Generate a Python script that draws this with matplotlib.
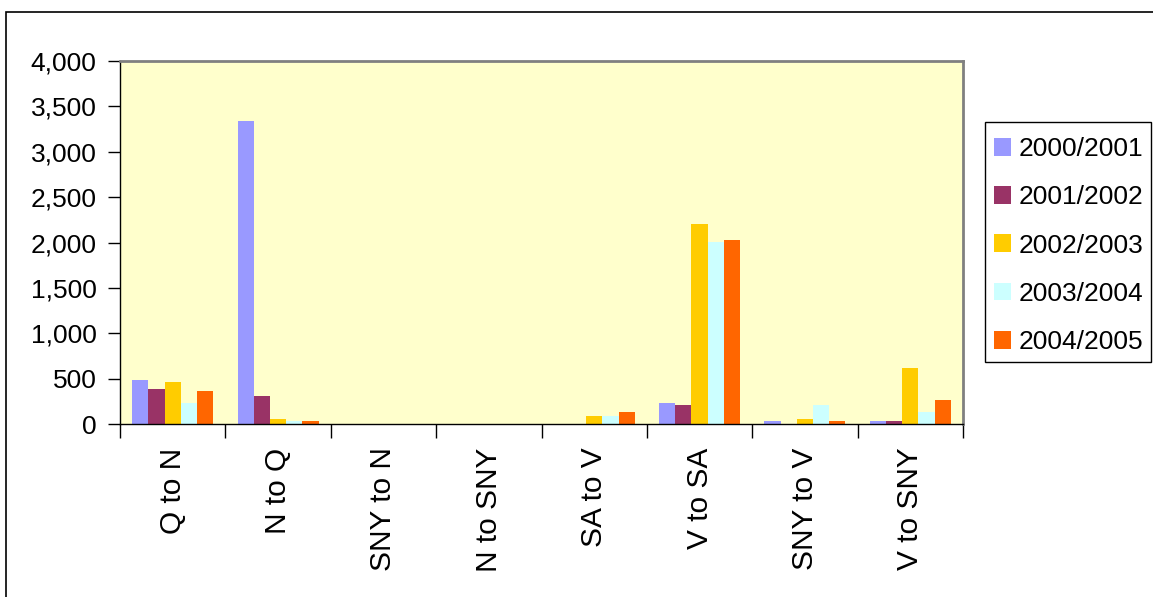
import matplotlib
matplotlib.use("Agg")
import matplotlib.pyplot as plt
from matplotlib.patches import Rectangle
from matplotlib.ticker import FuncFormatter, FixedLocator
import numpy as np

plt.rcParams['font.family'] = ['Liberation Sans', 'DejaVu Sans']

categories = ["Q to N", "N to Q", "SNY to N", "N to SNY", "SA to V", "V to SA", "SNY to V", "V to SNY"]
seasons = ["2000/2001", "2001/2002", "2002/2003", "2003/2004", "2004/2005"]
values_2000_2001 = [490, 3340, 0, 0, 0, 235, 36, 36]
values_2001_2002 = [390, 312, 0, 0, 0, 213, 0, 36]
values_2002_2003 = [466, 58, 0, 0, 92, 2206, 58, 620]
values_2003_2004 = [235, 36, 0, 0, 92, 2010, 213, 136]
values_2004_2005 = [367, 36, 0, 0, 136, 2030, 36, 268]
series = [values_2000_2001, values_2001_2002, values_2002_2003, values_2003_2004, values_2004_2005]
colors = ["#9999FF", "#993366", "#FFCC00", "#CCFFFF", "#FF6600"]

W, H = 1153, 597
fig = plt.figure(figsize=(W / 100, H / 100), dpi=100)

# outer chart border
fig.patches.append(Rectangle((6 / W, -0.1), 1.2, 1 - 12 / H + 0.1, transform=fig.transFigure,
                             fill=False, edgecolor="black", linewidth=1.2, clip_on=False))

ax = fig.add_axes([120 / W, 1 - 424 / H, (963 - 120) / W, (424 - 61) / H])
ax.set_facecolor("#FFFFCC")

n_series = len(series)
bar_w = 1 / 6.5
x = np.arange(len(categories)) + 0.5
for j, (vals, col, lab) in enumerate(zip(series, colors, seasons)):
    ax.bar(x + (j - (n_series - 1) / 2) * bar_w, vals, width=bar_w, color=col,
           label=lab, linewidth=0, zorder=2)

ax.set_xlim(0, len(categories))
ax.set_ylim(0, 4000)
ax.set_yticks(np.arange(0, 4001, 500))
ax.yaxis.set_major_formatter(FuncFormatter(lambda v, p: f"{int(v):,}"))
ax.tick_params(axis="y", direction="out", length=9, width=1, pad=8, labelsize=19, color="black")

ax.xaxis.set_major_locator(FixedLocator(np.arange(0, len(categories) + 1)))
ax.xaxis.set_minor_locator(FixedLocator(x))
ax.set_xticklabels([], minor=False)
ax.set_xticklabels(categories, minor=True, rotation=90, va="top", ha="center")
ax.tick_params(axis="x", which="major", direction="out", length=10, width=1, color="black")
ax.tick_params(axis="x", which="minor", length=0, pad=17, labelsize=21.5)

for side in ("top", "right"):
    ax.spines[side].set_color("#808080")
    ax.spines[side].set_linewidth(2)
for side in ("left", "bottom"):
    ax.spines[side].set_color("black")
    ax.spines[side].set_linewidth(1)

# legend box, drawn separately so the entries can sit freely inside it
fig.patches.append(Rectangle((985 / W, 1 - 362 / H), (1151 - 985) / W, (362 - 122) / H,
                             transform=fig.transFigure, fill=True, facecolor="white",
                             edgecolor="black", linewidth=1, zorder=3))
leg = fig.legend(loc="upper left", bbox_to_anchor=(994 / W, 1 - 137 / H), fontsize=19,
                 frameon=False, handlelength=0.65, handleheight=0.65, handletextpad=0.3,
                 labelspacing=0.92, borderpad=0, borderaxespad=0)
leg.set_zorder(4)

fig.savefig("out.png", dpi=100)
